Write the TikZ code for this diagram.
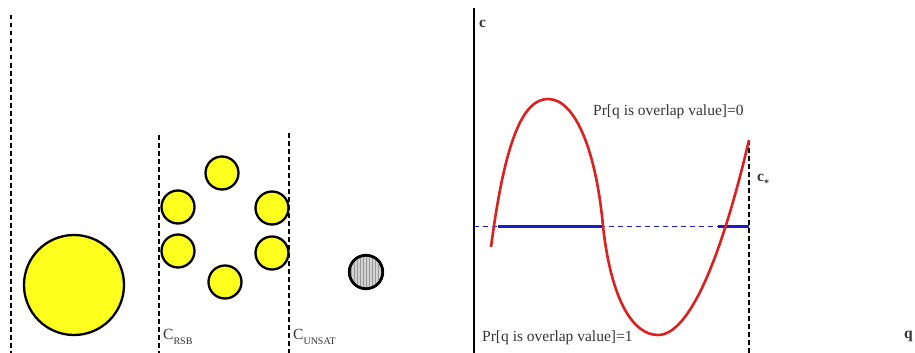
\documentclass[tikz,border=0pt]{standalone}
\usepackage{fontspec}
\setmainfont{Liberation Serif}
\usepackage{xcolor}
\usetikzlibrary{patterns}
\definecolor{bubblefill}{HTML}{FFFF1E}
\definecolor{curvered}{HTML}{DD1F1F}
\definecolor{levelblue}{HTML}{1A1ACC}
\definecolor{textgray}{HTML}{333333}
\tikzset{
  cut/.style={draw=black, line width=2.2pt, dash pattern=on 4.5pt off 3.5pt},
  bubble/.style={circle, draw=black, line width=2.3pt, fill=bubblefill, inner sep=0pt},
  frozen/.style={circle, draw=black, line width=2.3pt, fill=gray!35, inner sep=0pt},
  axisline/.style={draw=black, line width=2.4pt},
  curve/.style={draw=curvered, line width=2.6pt},
  level/.style={draw=levelblue, line width=3pt},
  leveldash/.style={draw=levelblue, line width=0.8pt, dash pattern=on 5pt off 4pt},
  lbl/.style={text=textgray, inner sep=0pt, font=\fontsize{15.5}{17}\selectfont},
  axlbl/.style={text=textgray, inner sep=0pt, font=\fontsize{15.5}{17}\selectfont\bfseries}
}
\begin{document}
\begin{tikzpicture}[x=1pt, y=-1pt]
  \useasboundingbox (0,0) rectangle (915,353);

  % left panel: clusters of solutions
  \draw[cut] (11,15) -- (11,353);
  \draw[cut] (159,135) -- (159,353);
  \draw[cut] (289,133) -- (289,353);

  \node[bubble, minimum size=100pt] (whole) at (74,285) {};
  \node[bubble, minimum size=33pt] (s1) at (222,173) {};
  \node[bubble, minimum size=33pt] (s2) at (178,207) {};
  \node[bubble, minimum size=33pt] (s3) at (272,208) {};
  \node[bubble, minimum size=33pt] (s4) at (178,251) {};
  \node[bubble, minimum size=33pt] (s5) at (272,253) {};
  \node[bubble, minimum size=33pt] (s6) at (225,282) {};
  \node[frozen, minimum size=34pt] (core) at (366,272) {};
  \fill[pattern=vertical lines, pattern color=gray!80] (core.center) circle (15pt);
  \draw[black, line width=2.3pt] (core.center) circle (16.5pt);

  \node[lbl, anchor=west] (crsb) at (163,337) {C\raisebox{-0.6ex}{\fontsize{10}{11}\selectfont RSB}};
  \node[lbl, anchor=west] (cunsat) at (293,337) {C\raisebox{-0.6ex}{\fontsize{10}{11}\selectfont UNSAT}};

  % right panel: c versus q
  \coordinate (origin) at (474,353);
  \coordinate (top) at (474,8);
  \draw[axisline] (origin) -- (top);
  \node[axlbl, anchor=west] (clbl) at (479,24) {c};
  \node[axlbl, anchor=east] (qlbl) at (913,336) {q};

  \coordinate (cstar) at (749,226);
  \draw[cut] (749,140) -- (749,353);
  \draw[leveldash] (474,226) -- (cstar);
  \draw[level] (498,226) -- (603,226);
  \draw[level] (718,226) -- (cstar);

  \draw[curve] (491,247) .. controls (505,140) and (523,99) .. (548,99)
    .. controls (575,99) and (596,150) .. (603,226)
    .. controls (611,300) and (633,335) .. (658,335)
    .. controls (690,335) and (722,255) .. (749,140);

  \node[axlbl, anchor=west] (cslbl) at (757,180) {c\raisebox{-0.7ex}{\fontsize{10}{11}\selectfont *}};
  \node[lbl, anchor=west] (pr0) at (593,112) {Pr[q is overlap value]=0};
  \node[lbl, anchor=west] (pr1) at (482,338) {Pr[q is overlap value]=1};
\end{tikzpicture}
\end{document}
